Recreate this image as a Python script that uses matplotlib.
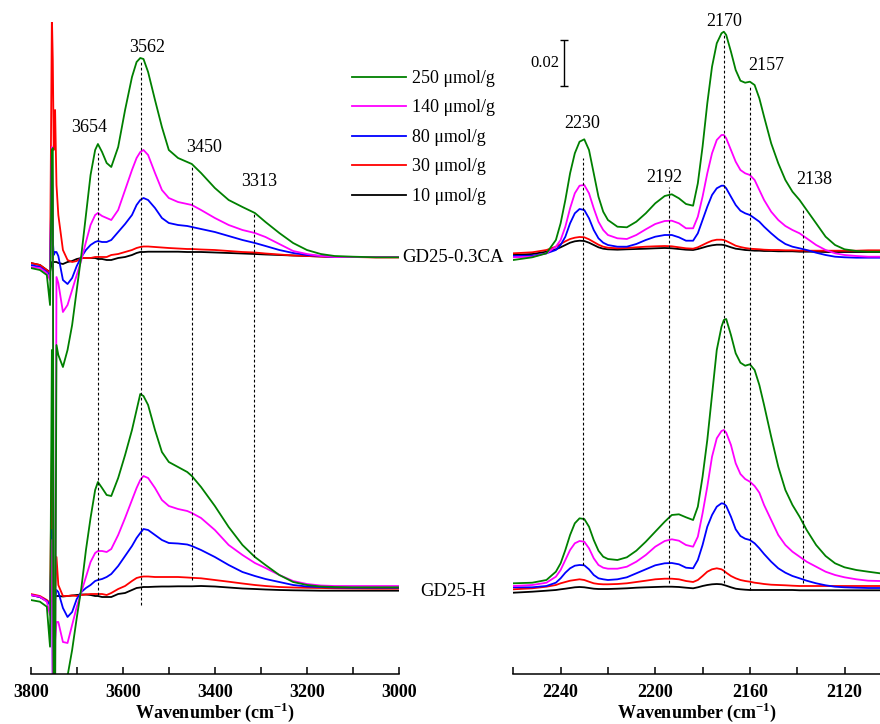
import matplotlib
matplotlib.use("Agg")
import matplotlib.pyplot as plt
from matplotlib.ticker import MultipleLocator

plt.rcParams["font.family"] = ["Liberation Serif", "DejaVu Serif"]
plt.rcParams["mathtext.fontset"] = "custom"
plt.rcParams["mathtext.rm"] = "Liberation Serif"
plt.rcParams["mathtext.bf"] = "Liberation Serif:bold"

# ---- data (absorbance in a.u. relative to each trace's baseline; 46 a.u. = 0.02) ----
loadings = ["10 \u03bcmol/g", "30 \u03bcmol/g", "80 \u03bcmol/g", "140 \u03bcmol/g", "250 \u03bcmol/g"]
colors = ["black", "#ff0000", "#0000ff", "#ff00ff", "#008000"]

# OH region
wn_oh = [3800, 3780, 3765, 3758, 3754, 3752, 3750, 3747, 3744, 3740,
         3730, 3720, 3710, 3700, 3690, 3680, 3670, 3660, 3654, 3645,
         3635, 3625, 3610, 3595, 3580, 3570, 3562, 3555, 3545, 3530,
         3515, 3500, 3480, 3460, 3450, 3430, 3400, 3370, 3340, 3313,
         3290, 3260, 3230, 3200, 3170, 3140, 3100, 3050, 3000]

oh_ca_10 = [-6, -8, -13, -15, -5, -5, -5, -5, -5, -6,
            -7, -5, -4, -2, -1, -1, -1, -1, -2, -2,
            -3, -3, -1, 0, 2, 4, 5, 5, 5.3, 5.3,
            5.3, 5.3, 5.3, 5, 5, 5, 4.5, 4, 3.5, 3,
            2.5, 2, 1.5, 1, 0.5, 0, 0, 0, 0]
oh_ca_30 = [-6, -8, -13, -16, 242, 197, 107, 147, 72, 42,
            7, -3, -5, -4, -1, -1, -1, 0, 0, 0,
            0, 2, 3, 5, 7, 9, 10, 10.5, 10.5, 10,
            9.5, 9, 8.5, 8, 8, 7.5, 7, 6, 5, 4.5,
            3.5, 2.5, 1.5, 1, 0.5, 0, 0, -0.5, -0.5]
oh_ca_80 = [-8, -10, -15, -18, 102, 17, 2, 5, 5, 1,
            -23, -27, -21, -9, 0, 7, 12, 15, 16, 15,
            15, 17, 25, 33, 42, 52, 57, 59, 57, 49,
            39, 34, 32, 31, 30, 28, 25, 21, 17, 14,
            11, 7, 4, 2, 1, 0, 0, 0, 0]
oh_ca_140 = [-10, -11, -16, -23, 110, 57, -443, -443, -20, -26,
             -55, -48, -33, -18, -3, 15, 32, 42, 44, 41,
             39, 37, 47, 67, 87, 99, 105, 107, 102, 84,
             67, 59, 55, 53, 52, 47, 39, 32, 27, 24,
             20, 13, 6, 3, 1, 0, 0, 0, 0]
oh_ca_250 = [-11, -13, -18, -48, 107, 109, -443, -443, -88, -98,
             -110, -93, -68, -33, 2, 42, 82, 107, 113, 105,
             94, 90, 110, 147, 180, 195, 199, 198, 185, 157,
             130, 107, 99, 95, 93, 84, 69, 57, 50, 44,
             35, 24, 14, 7, 3, 1, 0.3, -0.3, -0.3]

oh_h_10 = [-4, -6, -10, -12, -7, -5, -5, -5, -5, -5,
           -5.5, -5, -4.5, -4, -3.5, -3.5, -4, -5, -5, -6,
           -6, -6, -3, -2, 1, 3, 3.5, 4, 4, 4.3,
           4.5, 4.5, 4.7, 4.7, 4.7, 5, 4.5, 3.5, 2.5, 2,
           1.5, 1, 0.7, 0.5, 0.3, 0.3, 0.3, 0.3, 0.3]
oh_h_30 = [-3, -5, -9, -12, 141, 31, -9, 1, 34, 6,
           -5, -5, -4.5, -5, -4, -3.5, -3, -3, -3, -3,
           -4, -2, 2, 5, 10, 13, 14, 14.5, 14.5, 14,
           14, 14, 14, 13.5, 13.2, 12.7, 11, 9.3, 7.5, 6,
           5, 4, 3.5, 3.2, 3, 2.7, 2.5, 2.3, 2.3]
oh_h_80 = [-4, -6, -10, -14, 61, -99, -99, -9, 1, -1,
           -17, -26, -21, -8, -1, 3, 6, 10, 11, 12,
           14, 17, 25, 35, 45, 53, 58, 62, 61, 56,
           51, 48, 47.5, 46.5, 45, 41, 34, 26, 19, 15,
           12, 9, 6, 4.5, 4, 3.5, 3.3, 3.3, 3.3]
oh_h_140 = [-4, -5.7, -10.7, -24, 51, -99, -99, -49, -31, -31,
            -51, -52, -34, -16, -1, 14, 29, 38, 40, 40,
            39, 42, 56, 73, 91, 103, 111, 115, 113, 103,
            91, 85, 82, 80, 78, 73, 61, 46, 36, 28,
            23, 16, 10, 7, 5.5, 5, 5, 5, 5]
oh_h_250 = [-9, -10.7, -15.7, -55.7, 241, 241, -109, -109, -129, -129,
            -109, -85, -59, -27, 3, 41, 73, 101, 109, 103,
            96, 95, 113, 136, 161, 181, 197, 195, 186, 161,
            139, 129, 124, 119, 115, 104, 85, 64, 46, 34,
            26, 16, 9, 6, 4.5, 4, 3.7, 3.7, 3.7]

# CO region
wn_co = [2260, 2252, 2246, 2242, 2240, 2238, 2236, 2234, 2232, 2230,
         2228, 2226, 2224, 2222, 2220, 2216, 2212, 2208, 2204, 2200,
         2196, 2193, 2190, 2187, 2184, 2182, 2180, 2178, 2176, 2174,
         2172, 2171, 2170, 2168, 2166, 2164, 2162, 2160, 2158, 2156,
         2154, 2151, 2148, 2145, 2142, 2139, 2136, 2132, 2128, 2124,
         2120, 2115, 2110, 2105]

co_ca_10 = [2, 3, 5.3, 7.7, 9.7, 12, 14.3, 15.7, 16.3, 16,
            14.3, 12, 9.7, 8.3, 7.7, 7.3, 7.7, 8, 8.3, 8.7,
            9, 8.7, 8, 7.3, 7, 8, 9.3, 10.7, 11.7, 12.3,
            12.3, 12, 11.3, 9.7, 8.3, 7.7, 7, 6.7, 6.3, 6.3,
            6, 6, 5.7, 5.7, 5.7, 5.3, 5.3, 5.3, 5, 5,
            5, 5, 5, 5]
co_ca_30 = [3.7, 4.7, 7, 10.3, 13, 15.7, 18, 19.3, 20, 19.7,
            17.7, 15, 12.3, 10.3, 9.3, 8.7, 9, 9.7, 10.3, 10.7,
            11, 10.7, 9.7, 8.7, 8.3, 9.7, 12, 14.3, 16.3, 17.3,
            17.3, 17, 16, 13.7, 11.3, 10, 9, 8.3, 8, 7.7,
            7.3, 7, 7, 6.7, 6.7, 6.3, 6.3, 6.3, 6.3, 6.3,
            6.3, 6.3, 6.7, 6.7]
co_ca_80 = [1, 1.3, 3.7, 7, 12, 20.3, 33.7, 43.7, 48, 47,
            38.7, 27, 18.7, 14.3, 12, 10.3, 10.3, 13, 17, 20.3,
            22, 22, 19.7, 16.3, 16.3, 23.7, 37, 50.3, 62, 68.7,
            71.3, 71.3, 68.7, 60.3, 52, 46.3, 43.7, 42, 38.7, 35.3,
            30.3, 23.7, 17.7, 13, 10.3, 8.7, 7, 4.3, 2, 0.3,
            -0.3, -0.7, -0.7, -0.7]
co_ca_140 = [-0.3, 0.3, 3.7, 10.3, 17, 30.3, 48.7, 63.7, 71.3, 72,
             63.7, 48.7, 35.3, 27, 22, 18.7, 18, 22, 27.7, 33,
             36, 36.3, 33.7, 28.7, 28.7, 40.3, 60.3, 83.7, 103.7, 117,
             122, 122, 118.7, 107, 95.3, 87, 83.7, 82, 77, 67,
             57, 45.3, 37, 31, 27, 23.7, 18.7, 12, 7, 3.7,
             2, 1, 0.3, 0.3]
co_ca_250 = [-3, -0.3, 3.7, 17, 33.7, 57, 83.7, 103.7, 115.3, 117.7,
             107, 83.7, 60.3, 45.3, 37, 30.3, 29.7, 35.3, 43.7, 53.7,
             61, 62.7, 58.7, 53, 51.3, 73.7, 110.3, 153.7, 190.3, 213.7,
             223.7, 225.3, 222, 205.3, 187, 176.3, 174.3, 175.3, 172, 158.7,
             140.3, 113.7, 93.7, 77, 65.3, 57, 47, 33.7, 20.3, 12,
             7.7, 6, 5.3, 5.3]

co_h_10 = [-1.7, -0.7, 0.3, 1, 1.7, 2.3, 3, 3.7, 4, 3.7,
           3, 2.3, 2, 2, 2, 2.3, 2.7, 3.3, 3.7, 4,
           4.3, 4.3, 4, 3.3, 2.7, 3.7, 5, 6, 6.7, 7,
           6.7, 6, 5.3, 3.7, 2.3, 1.7, 1.3, 1, 1, 1,
           1, 1, 1, 1, 1, 0.7, 0.7, 0.7, 0.7, 0.7,
           0.7, 0.7, 0.7, 0.7]
co_h_30 = [1.7, 2.7, 4.3, 6, 7.7, 9, 10.3, 11, 11.7, 11,
           9.3, 7.7, 7, 6.7, 6.7, 7, 7.7, 9, 10.3, 11.7,
           12.3, 12.3, 11.7, 10, 9, 11, 15, 19.3, 21.7, 22.7,
           21.7, 20.3, 18.3, 15, 12.7, 11, 10, 9.3, 8.3, 7.7,
           7, 6.3, 6, 5.7, 5.3, 5, 5, 5, 5, 5,
           5, 5, 5, 5]
co_h_80 = [3.7, 3.7, 5, 8.3, 12.7, 18.3, 22.7, 25.3, 26, 25.7,
           21.7, 16, 12.7, 11.7, 11, 11.7, 13.7, 17.7, 21.7, 25.7,
           27.7, 28, 26.7, 23.3, 22.7, 31, 46, 64.3, 76, 84.3,
           87.7, 87.3, 85, 74.3, 61.7, 55, 52.3, 51, 47.7, 42.7,
           37, 29.3, 22.7, 18.3, 15, 12.7, 10.3, 7.7, 5.7, 4.3,
           3.7, 3.3, 3, 3]
co_h_140 = [5, 6, 8.3, 14.3, 21, 31, 41, 47.7, 50, 49.3,
            42.7, 32.7, 26, 23.3, 22.3, 22.3, 24.3, 29.3, 36, 44.3,
            50, 51.7, 50.3, 46, 44.3, 54.3, 77.7, 104.3, 134.3, 152.7,
            160, 161, 158.3, 146, 127.7, 117, 112, 109.3, 105, 98.3,
            86, 71, 56, 46, 39.3, 34.3, 29.3, 24.3, 19.3, 16,
            13.7, 11.7, 10.3, 10]
co_h_250 = [7.7, 8.3, 11, 19.3, 27.7, 41, 56, 67.7, 72.7, 72,
            64.3, 51, 40.3, 34.3, 32, 31, 33.7, 40.3, 49.3, 59.3,
            69.3, 76, 76.7, 73.7, 71, 84.3, 114.3, 151, 196, 241,
            264.3, 271, 272, 256, 237.7, 228.3, 225.3, 226.7, 221, 206,
            186, 154.3, 124.3, 101, 86, 74.3, 61, 46, 35, 27.7,
            23.7, 21, 19.3, 17.7]

# stacking offsets of the two samples
offset_ca = 417
offset_h = 83

# band positions (labels and dotted guide lines)
oh_bands = ["3654", "3562", "3450", "3313"]
oh_band_pos = [3654, 3560, 3449, 3315]
co_bands = ["2230", "2192", "2170", "2157", "2138"]
co_band_pos = [2230.5, 2194, 2171, 2160, 2137.5]

# ---- layout ----
oh_line_span = [(79, 521), (69, 612), (94, 509), (117, 461)]
oh_label_xy = [(3673, 546), (3547, 626), (3424, 527), (3304, 492)]
co_line_span = [(109, 516), (91, 487), (91, 641), (84, 589), (91, 466)]
co_label_xy = [(2231, 551), (2196, 496), (2171, 652), (2153, 608), (2133, 495)]

fig = plt.figure(figsize=(8.8, 7.24), dpi=100)
ax_oh = fig.add_axes([30.7 / 880, 50 / 724, (399 - 30.7) / 880, 652 / 724])
ax_co = fig.add_axes([513.3 / 880, 50 / 724, (880 - 513.3) / 880, 652 / 724])

oh_ca = [oh_ca_10, oh_ca_30, oh_ca_80, oh_ca_140, oh_ca_250]
oh_h = [oh_h_10, oh_h_30, oh_h_80, oh_h_140, oh_h_250]
co_ca = [co_ca_10, co_ca_30, co_ca_80, co_ca_140, co_ca_250]
co_h = [co_h_10, co_h_30, co_h_80, co_h_140, co_h_250]

handles = []
for i in range(len(loadings)):
    ax_oh.plot(wn_oh, [offset_h + v for v in oh_h[i]], color=colors[i], lw=1.3)
    ax_co.plot(wn_co, [offset_h + v for v in co_h[i]], color=colors[i], lw=1.3)
    ax_co.plot(wn_co, [offset_ca + v for v in co_ca[i]], color=colors[i], lw=1.3)
    h, = ax_oh.plot(wn_oh, [offset_ca + v for v in oh_ca[i]], color=colors[i], lw=1.3)
    handles.append(h)

dash = (0, (2.5, 2))
for pos, (y0, y1), lab, (tx, ty) in zip(oh_band_pos, oh_line_span, oh_bands, oh_label_xy):
    ax_oh.vlines(pos, y0, y1, colors="black", lw=0.8, linestyles=dash)
    ax_oh.text(tx, ty, lab, ha="center", va="center", fontsize=13)
for pos, (y0, y1), lab, (tx, ty) in zip(co_band_pos, co_line_span, co_bands, co_label_xy):
    ax_co.vlines(pos, y0, y1, colors="black", lw=0.8, linestyles=dash)
    ax_co.text(tx, ty, lab, ha="center", va="center", fontsize=13, clip_on=False)

# scale bar: 46 a.u. = 0.02 absorbance
ax_co.errorbar([2238.5], [611], yerr=[23], color="black", lw=1.0, capsize=3, capthick=1.0)
ax_co.text(2246.5, 611, "0.02", ha="center", va="center", fontsize=12)

# sample labels at the baselines
ax_oh.text(2883, offset_ca, "GD25-0.3CA", ha="center", va="center", fontsize=13.5, clip_on=False)
ax_oh.text(2883, offset_h, "GD25-H", ha="center", va="center", fontsize=13.5, clip_on=False)

fig.legend(handles[::-1], loadings[::-1], loc="upper left",
           bbox_to_anchor=(352 / 880, 1 - 70 / 724), frameon=False, fontsize=13,
           handlelength=3.0, handletextpad=0.3, labelspacing=0.69,
           borderpad=0, borderaxespad=0)

ax_oh.set_xlim(3800, 3000)
ax_co.set_xlim(2260, 2105)
ax_oh.xaxis.set_major_locator(MultipleLocator(200))
ax_oh.xaxis.set_minor_locator(MultipleLocator(100))
ax_co.xaxis.set_major_locator(MultipleLocator(40))
ax_co.xaxis.set_minor_locator(MultipleLocator(20))

for ax in (ax_oh, ax_co):
    ax.set_ylim(0, 652)
    ax.set_yticks([])
    for side in ("left", "right", "top"):
        ax.spines[side].set_visible(False)
    ax.spines["bottom"].set_linewidth(1.1)
    ax.tick_params(axis="x", which="both", direction="in", length=5, width=1.1,
                   labelsize=13, pad=7)
    for t in ax.get_xticklabels():
        t.set_fontweight("bold")
    ax.set_xlabel(r"Wavenumber (cm$^{\mathbf{-1}}$)", fontsize=13, fontweight="bold", labelpad=0)
    ax.patch.set_alpha(0)

fig.savefig("out.png", dpi=100)
